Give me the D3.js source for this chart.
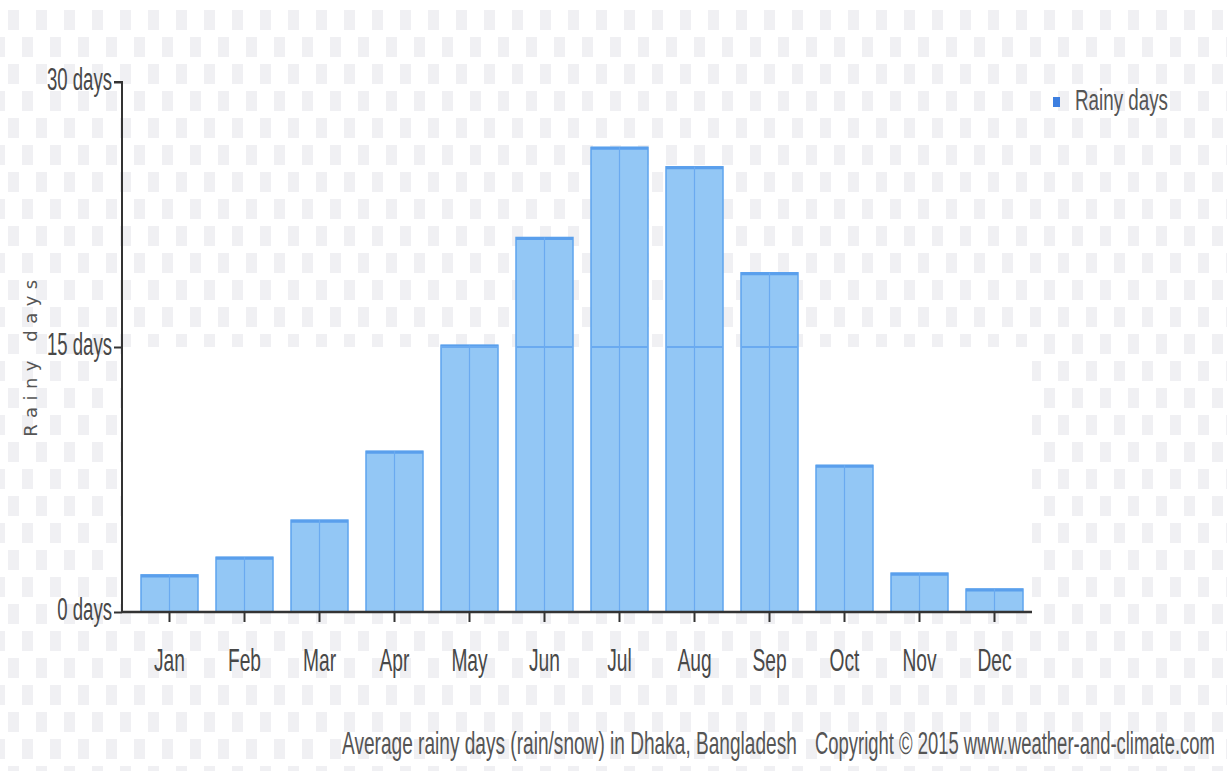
<!DOCTYPE html>
<html>
<head>
<meta charset="utf-8">
<script src="https://cdn.jsdelivr.net/npm/d3@7"></script>
<style>
  html, body { margin: 0; padding: 0; background: #fff; }
  svg { display: block; }
  text { font-family: "Liberation Sans", Arial, sans-serif; }
</style>
</head>
<body>
<svg id="chart" width="1227" height="771"></svg>
<script>
const months = ["Jan","Feb","Mar","Apr","May","Jun","Jul","Aug","Sep","Oct","Nov","Dec"];
const rainyDays = [2.1, 3.1, 5.2, 9.1, 15.1, 21.2, 26.3, 25.2, 19.2, 8.3, 2.2, 1.3];
const yTicks = [0, 15, 30];
const yTickLabels = ["0 days", "15 days", "30 days"];
const seriesName = "Rainy days";
const footerLeft = "Average rainy days (rain/snow) in Dhaka, Bangladesh";
const footerRight = "Copyright \u00a9 2015 www.weather-and-climate.com";

const svg = d3.select("#chart");
const W = 1227, H = 771;

function squeeze(sel, sx) {
  sel.each(function () {
    const t = d3.select(this);
    const x0 = +(t.attr("x") || 0);
    t.attr("x", x0 / sx).attr("transform", `scale(${sx},1)`);
  });
}
function fitText(parent, x, y, str, size, width, fill) {
  const gg = parent.append("g").attr("transform", `translate(${x},${y})`);
  const t = gg.append("text").attr("font-size", size).attr("fill", fill).text(str);
  const w = t.node().getComputedTextLength();
  t.attr("transform", `scale(${width / w},1)`);
  return t;
}

// faint checkered watermark background
const defs = svg.append("defs");
const pat = defs.append("pattern").attr("id", "bgpat").attr("patternUnits", "userSpaceOnUse")
  .attr("width", 56).attr("height", 54).attr("x", 8).attr("y", 10);
[[0,0],[28,0],[14,27],[42,27]].forEach(([px, py]) => {
  pat.append("rect").attr("x", px).attr("y", py).attr("width", 11).attr("height", 20).attr("fill", "#f0f0f3");
});
svg.append("rect").attr("width", W).attr("height", H).attr("fill", "#fff");
svg.append("rect").attr("x", 0).attr("y", 6).attr("width", W).attr("height", H - 6).attr("fill", "url(#bgpat)");

const axisX0 = 122;
const x = d3.scaleBand().domain(months).range([132, 1032]).paddingInner(0.24).paddingOuter(0.12);
const y = d3.scaleLinear().domain([0, 30]).range([612, 82]);

svg.append("rect").attr("x", axisX0).attr("y", y(15)).attr("width", 1032 - axisX0).attr("height", y(0) - y(15)).attr("fill", "#fff");

// bars
const bw = x.bandwidth();
const g = svg.append("g");
g.selectAll("rect.bar").data(rainyDays).join("rect")
  .attr("class", "bar")
  .attr("x", (d, i) => x(months[i]))
  .attr("y", d => y(d))
  .attr("width", bw)
  .attr("height", d => y(0) - y(d))
  .attr("fill", "#93c7f5")
  .attr("stroke", "#5ea4ee")
  .attr("stroke-width", 1.5);
g.selectAll("line.top").data(rainyDays).join("line")
  .attr("x1", (d, i) => x(months[i])).attr("x2", (d, i) => x(months[i]) + bw)
  .attr("y1", d => y(d) + 1).attr("y2", d => y(d) + 1)
  .attr("stroke", "#5a9fec").attr("stroke-width", 3);
g.selectAll("line.mid").data(rainyDays).join("line")
  .attr("x1", (d, i) => x(months[i]) + bw / 2).attr("x2", (d, i) => x(months[i]) + bw / 2)
  .attr("y1", d => y(d)).attr("y2", y(0))
  .attr("stroke", "#6aaaf0").attr("stroke-width", 1.2);
g.selectAll("line.grid").data(rainyDays.map((d, i) => ({ d, i })).filter(o => o.d > 15)).join("line")
  .attr("x1", o => x(months[o.i])).attr("x2", o => x(months[o.i]) + bw)
  .attr("y1", y(15)).attr("y2", y(15))
  .attr("stroke", "#6aaaf0").attr("stroke-width", 2);

// y axis
const yAxis = d3.axisLeft(y).tickValues(yTicks).tickSize(8).tickFormat((d, i) => yTickLabels[i]);
const ya = svg.append("g").attr("transform", `translate(${axisX0},0)`).call(yAxis);
ya.select(".domain").attr("stroke", "#333").attr("stroke-width", 2).attr("d", `M-8,${y(30)}H0V${y(0)}`);
ya.selectAll(".tick line").attr("stroke", "#333").attr("stroke-width", 2);
ya.selectAll(".tick text").attr("font-size", 31).attr("fill", "#484848").attr("x", -10).attr("dy", "0.25em")
  .style("font-family", "'Liberation Sans', Arial, sans-serif");
squeeze(ya.selectAll(".tick text"), 0.6);

// x axis
const xAxis = d3.axisBottom(x).tickSize(10).tickSizeOuter(0);
const xa = svg.append("g").attr("transform", `translate(0,${y(0)})`).call(xAxis);
xa.select(".domain").attr("stroke", "#333").attr("stroke-width", 2.5).attr("d", `M${axisX0},0H1032`);
xa.selectAll(".tick line").attr("stroke", "#333").attr("stroke-width", 2);
xa.selectAll(".tick text").attr("font-size", 32).attr("fill", "#484848").attr("y", 59).attr("dy", 0)
  .style("font-family", "'Liberation Sans', Arial, sans-serif");
squeeze(xa.selectAll(".tick text"), 0.6);

// y axis title
svg.append("text").attr("transform", "translate(37,355) rotate(-90)")
  .attr("text-anchor", "middle").attr("font-size", 18).attr("fill", "#555")
  .attr("letter-spacing", 6.5)
  .style("font-family", "'DejaVu Sans', sans-serif")
  .text(seriesName);

// legend
svg.append("rect").attr("x", 1053).attr("y", 97).attr("width", 7).attr("height", 10).attr("fill", "#3d7fe0");
fitText(svg, 1075, 110, seriesName, 29, 93, "#555");

// footer
fitText(svg, 342, 754, footerLeft, 31, 455, "#555");
fitText(svg, 815, 754, footerRight, 31, 400, "#555");
</script>
</body>
</html>
